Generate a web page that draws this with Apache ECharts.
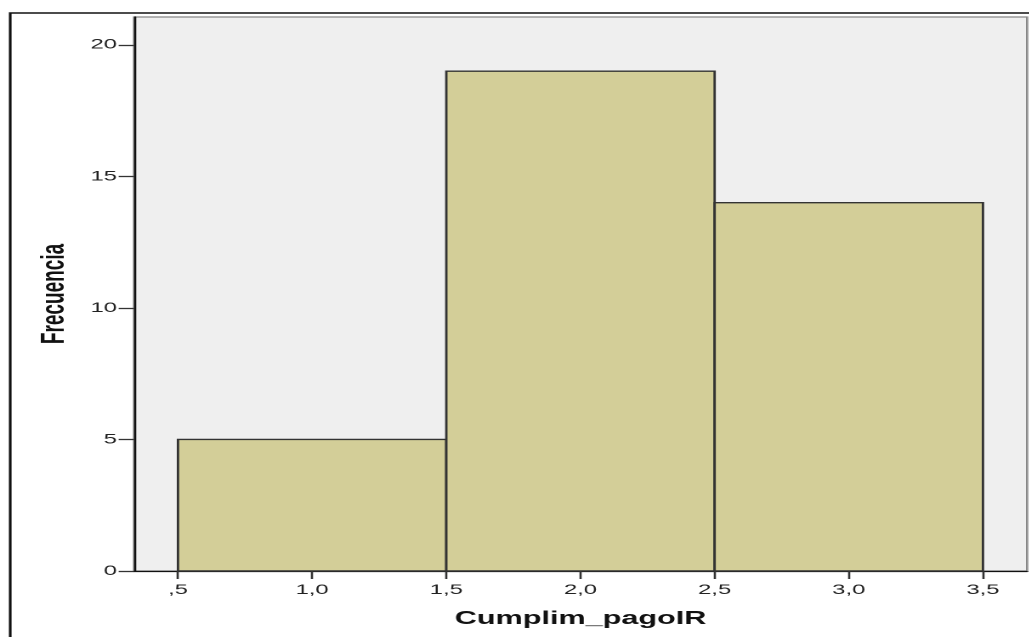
<!DOCTYPE html>
<html>
<head>
<meta charset="utf-8">
<script src="https://cdn.jsdelivr.net/npm/echarts@6/dist/echarts.min.js"></script>
<style>
html,body{margin:0;padding:0;background:#fff;overflow:hidden;width:1029px;height:637px;}
#wrap{position:absolute;left:0;top:0;width:605px;height:637px;transform:scaleX(1.7);transform-origin:0 0;}
#chart{width:605px;height:637px;}
</style>
</head>
<body>
<div id="wrap"><div id="chart"></div></div>
<script>
// Histogram data
const binStarts = [0.5, 1.5, 2.5];
const binEnds   = [1.5, 2.5, 3.5];
const counts    = [5, 19, 14];

// Tick values and labels
const xTickValues = [0.5, 1.0, 1.5, 2.0, 2.5, 3.0, 3.5];
const xTickLabels = [',5', '1,0', '1,5', '2,0', '2,5', '3,0', '3,5'];
const yTickValues = [0, 5, 10, 15, 20];
const yTickLabels = ['0', '5', '10', '15', '20'];

const xTitle = 'Cumplim_pagoIR';
const yTitle = 'Frecuencia';

const data = binStarts.map((s, i) => [s, binEnds[i], counts[i]]);

const chart = echarts.init(document.getElementById('chart'), null, {renderer: 'canvas', devicePixelRatio: 2});
const labelFont = {fontFamily: 'Liberation Sans, Arial, sans-serif', fontSize: 14, color: '#222'};

chart.setOption({
  animation: false,
  backgroundColor: '#fff',
  graphic: [{
    type: 'rect', z: 100, silent: true,
    shape: {x: 6, y: 13, width: 2000, height: 2000},
    style: {fill: 'none', stroke: '#111', lineWidth: 1.6}
  }],
  grid: {
    left: 78.8, right: 0.9, top: 17, bottom: 66,
    show: true, backgroundColor: '#efefef', borderColor: '#888', borderWidth: 1.2
  },
  xAxis: {
    type: 'value', min: 0.336, max: 3.664,
    name: xTitle, nameLocation: 'middle', nameGap: 39,
    nameTextStyle: {fontFamily: 'Liberation Sans, Arial, sans-serif', fontSize: 18, fontWeight: 'bold', color: '#111'},
    axisLine: {show: true, onZero: false, lineStyle: {color: '#111', width: 1.3}},
    axisTick: {show: true, length: 8, customValues: xTickValues, lineStyle: {color: '#333', width: 1.3}},
    axisLabel: Object.assign({
      margin: 12,
      customValues: xTickValues,
      formatter: v => { const i = xTickValues.findIndex(t => Math.abs(t - v) < 1e-6); return i >= 0 ? xTickLabels[i] : ''; }
    }, labelFont),
    splitLine: {show: false}
  },
  yAxis: {
    type: 'value', min: 0, max: 21.06,
    name: yTitle, nameLocation: 'middle', nameGap: 37, nameRotate: 90,
    nameTextStyle: {fontFamily: 'Liberation Sans, Arial, sans-serif', fontSize: 19, fontWeight: 'bold', color: '#111'},
    axisLine: {show: true, onZero: false, lineStyle: {color: '#111', width: 1.3}},
    axisTick: {show: true, length: 9, customValues: yTickValues, lineStyle: {color: '#333', width: 1.3}},
    axisLabel: Object.assign({
      margin: 10,
      customValues: yTickValues,
      formatter: v => { const i = yTickValues.findIndex(t => Math.abs(t - v) < 1e-6); return i >= 0 ? yTickLabels[i] : ''; }
    }, labelFont),
    splitLine: {show: false}
  },
  series: [{
    type: 'custom',
    data: data,
    encode: {x: [0, 1], y: 2},
    renderItem: function (params, api) {
      const p0 = api.coord([api.value(0), api.value(2)]);
      const p1 = api.coord([api.value(1), 0]);
      return {
        type: 'rect',
        shape: {x: p0[0], y: p0[1], width: p1[0] - p0[0], height: p1[1] - p0[1]},
        style: {fill: '#d3ce98', stroke: '#333', lineWidth: 1.4}
      };
    }
  }]
});
</script>
</body>
</html>
